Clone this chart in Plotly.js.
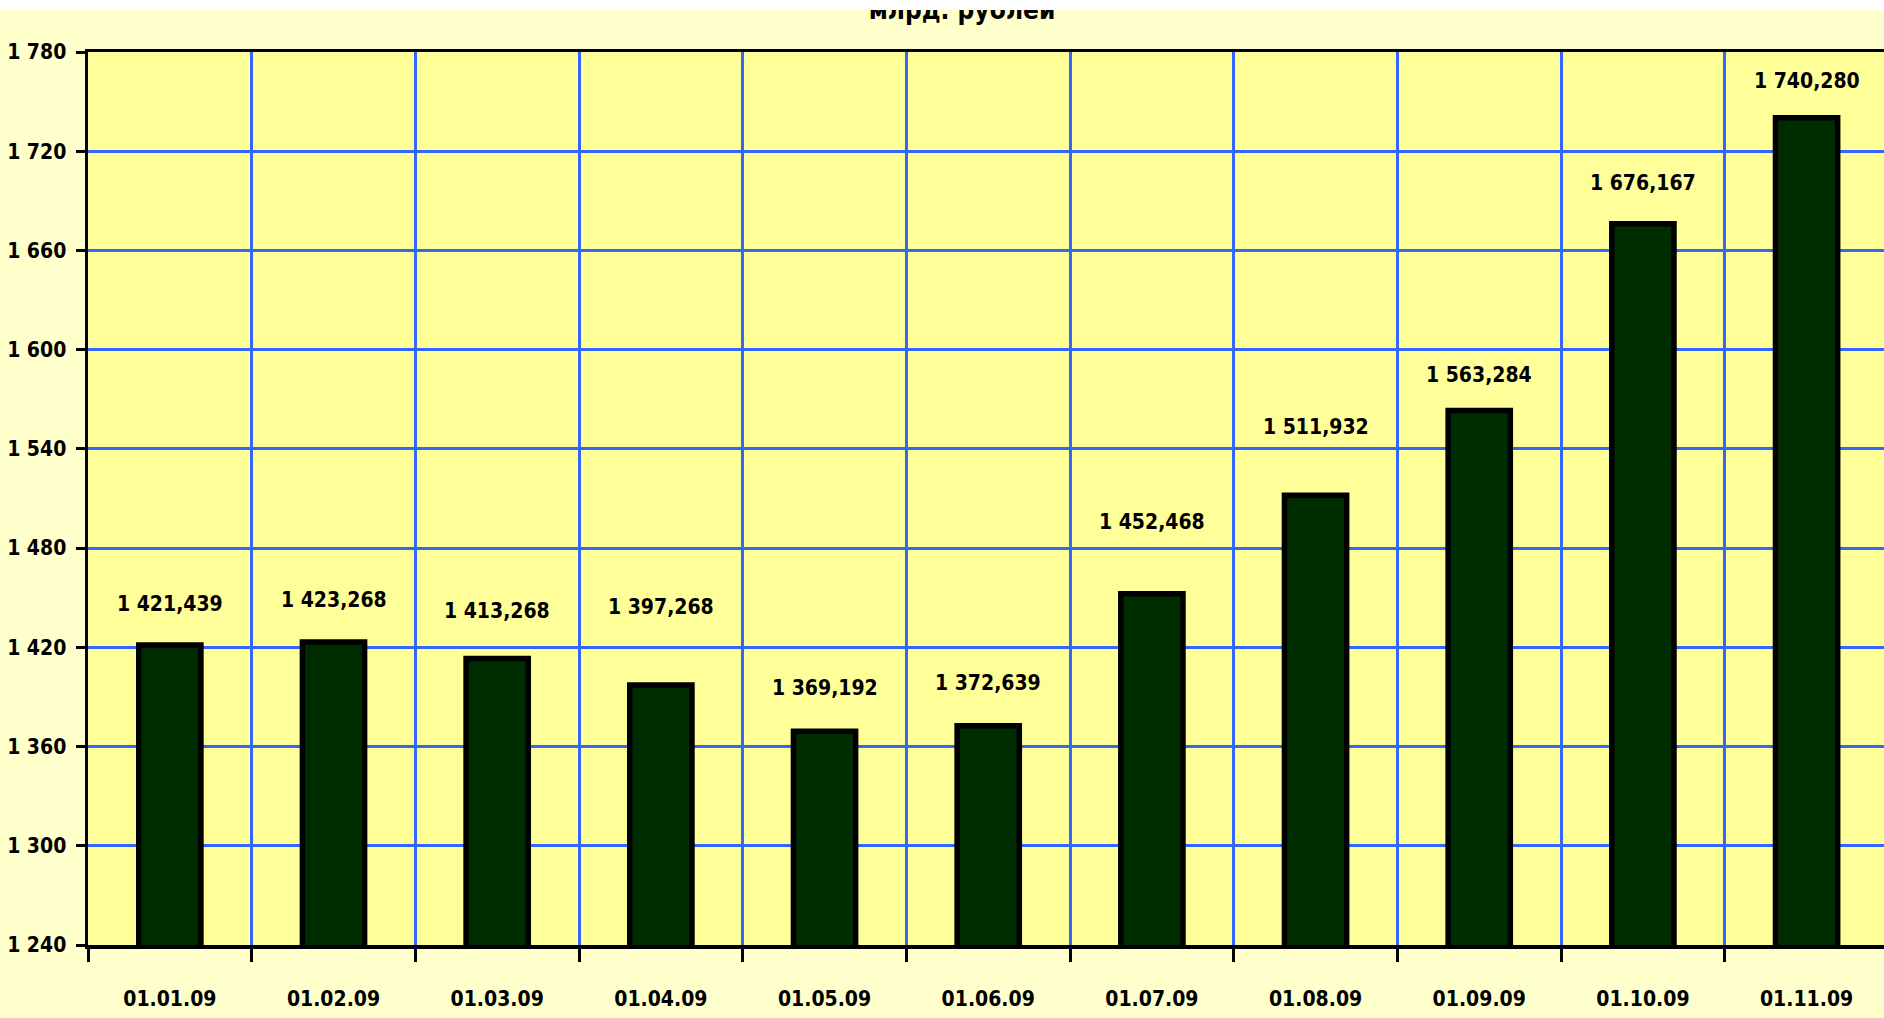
<!DOCTYPE html>
<html>
<head>
<meta charset="utf-8">
<script src="https://cdn.plot.ly/plotly-3.0.1.min.js"></script>
<style>
  html, body { margin: 0; padding: 0; background: #ffffff; overflow: hidden; }
  #chart { position: absolute; left: 0; top: 10px; width: 1884px; height: 1008px; }
</style>
</head>
<body>
<div id="chart"></div>
<script>
// ---- data ----
const categories = ["01.01.09", "01.02.09", "01.03.09", "01.04.09", "01.05.09", "01.06.09",
                    "01.07.09", "01.08.09", "01.09.09", "01.10.09", "01.11.09"];
const values = [1421.439, 1423.268, 1413.268, 1397.268, 1369.192, 1372.639,
                1452.468, 1511.932, 1563.284, 1676.167, 1740.280];
const yTickValues = [1240, 1300, 1360, 1420, 1480, 1540, 1600, 1660, 1720, 1780];
const titleText = "млрд. рублей";

// ---- label placement (pixels above each bar value) ----
const labelShift = [41, 42, 47, 78, 43, 43, 72, 68, 35, 41, 37];

function fmt(v) {
  const s = v.toFixed(3);
  const parts = s.split(".");
  return parts[0].replace(/\B(?=(\d{3})+(?!\d))/g, " ") + "," + parts[1];
}

const FONT = "'Liberation Sans Narrow', 'Arial Narrow', 'DejaVu Sans Condensed', sans-serif";

const trace = {
  type: "bar",
  x: categories,
  y: values,
  width: 0.38,
  marker: { color: "#002d00", line: { color: "#000000", width: 5.5 } },
  hoverinfo: "x+y"
};

const annotations = categories.map((c, i) => ({
  x: c, y: values[i], xref: "x", yref: "y",
  text: "<b>" + fmt(values[i]) + "</b>",
  showarrow: false, xanchor: "center", yanchor: "middle",
  yshift: labelShift[i],
  font: { family: FONT, size: 21, color: "#000000" }
}));

const layout = {
  width: 1884, height: 1008,
  paper_bgcolor: "#FFFFCC",
  plot_bgcolor: "#FFFF99",
  separators: ", ",
  margin: { l: 88, r: 0, t: 42, b: 73, pad: 0 },
  showlegend: false,
  title: {
    text: "<b>" + titleText + "</b>",
    x: 962 / 1884, xanchor: "center", xref: "container",
    y: 1, yanchor: "middle", yref: "container",
    font: { family: FONT, size: 26, color: "#000000" }
  },
  xaxis: {
    type: "category",
    range: [-0.5, 10.473],
    tickson: "boundaries",
    ticks: "outside", ticklen: 13, tickwidth: 3, tickcolor: "#000000",
    showgrid: true, gridcolor: "#3366FF", gridwidth: 3,
    showline: true, linecolor: "#000000", linewidth: 3.5, mirror: true,
    tickfont: { family: FONT, size: 21, color: "#000000", weight: "bold" },
    ticklabelstandoff: 32,
    zeroline: false, fixedrange: true
  },
  yaxis: {
    range: [1240, 1780],
    tickvals: yTickValues,
    tickformat: ",d",
    ticks: "outside", ticklen: 9, tickwidth: 3, tickcolor: "#000000",
    showgrid: true, gridcolor: "#3366FF", gridwidth: 3,
    showline: true, linecolor: "#000000", linewidth: 3.5,
    tickfont: { family: FONT, size: 21, color: "#000000", weight: "bold" },
    ticklabelstandoff: 5,
    zeroline: false, fixedrange: true
  },
  annotations: annotations
};

Plotly.newPlot("chart", [trace], layout, { displayModeBar: false, staticPlot: true });
</script>
</body>
</html>
